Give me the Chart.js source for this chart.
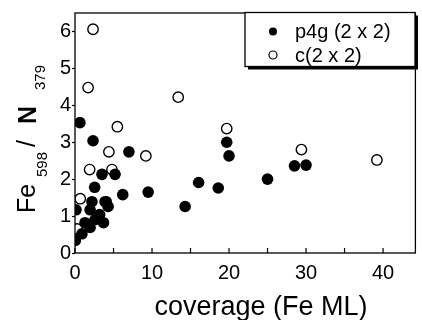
<!DOCTYPE html>
<html>
<head>
<meta charset="utf-8">
<script src="https://cdn.jsdelivr.net/npm/chart.js@4.4.1/dist/chart.umd.min.js"></script>
<style>
  html, body { margin: 0; padding: 0; background: #fff; }
  #wrap { width: 422px; height: 320px; }
</style>
</head>
<body>
<div id="wrap"><canvas id="chart" width="422" height="320"></canvas></div>
<script>
// p4g (2 x 2) - filled circles
const p4gX = [0.64, 2.34, 7.0, 3.5, 5.2, 2.55, 6.2, 9.5, 4.05, 14.3, 16.05, 18.6, 19.7, 20.0, 25.0, 28.5, 30.0,
              2.2, 3.9, 4.3, 1.96, 2.6, 3.7, 3.2, 0.13, 1.3, 1.96, 0.9, 0.04];
const p4gY = [3.53, 3.04, 2.74, 2.13, 2.13, 1.78, 1.58, 1.65, 1.39, 1.26, 1.91, 1.76, 3.0, 2.63, 2.0, 2.36, 2.38,
              1.39, 1.39, 1.26, 1.17, 0.9, 0.82, 1.04, 1.17, 0.82, 0.69, 0.52, 0.34];
// c(2 x 2) - open circles
const c2X = [2.34, 1.7, 13.4, 5.5, 19.7, 4.4, 29.4, 9.2, 39.2, 1.9, 4.8, 0.68, 0.26];
const c2Y = [6.06, 4.48, 4.22, 3.42, 3.37, 2.74, 2.8, 2.63, 2.52, 2.26, 2.26, 1.47, 0.65];

const legendLabels = ['p4g (2 x 2)', 'c(2 x 2)'];
const xTitle = 'coverage (Fe ML)';
const xTickValues = [0, 5, 10, 15, 20, 25, 30, 35, 40];
const xTickLabels = ['0', '', '10', '', '20', '', '30', '', '40'];
const yTickValues = [0, 1, 2, 3, 4, 5, 6];
const yTickLabels = ['0', '1', '2', '3', '4', '5', '6'];

const FONT = '"Liberation Sans", Arial, Helvetica, sans-serif';

function toPoints(xs, ys) {
    return xs.map((x, i) => ({ x: x, y: ys[i] }));
}

// frame, inward x ticks, titles and legend box
const decorations = {
    id: 'decorations',
    afterDraw(chart) {
        const ctx = chart.ctx;
        const a = chart.chartArea;
        const xs = chart.scales.x;
        ctx.save();
        ctx.strokeStyle = '#000';
        ctx.lineWidth = 1.3;
        ctx.strokeRect(a.left, a.top, a.right - a.left, a.bottom - a.top);

        // x ticks point into the plot
        ctx.lineWidth = 1.2;
        ctx.beginPath();
        xs.ticks.forEach(t => {
            const px = xs.getPixelForValue(t.value);
            ctx.moveTo(px, a.bottom);
            ctx.lineTo(px, a.bottom - 5);
        });
        ctx.stroke();

        // x title
        ctx.fillStyle = '#000';
        ctx.font = '27px ' + FONT;
        ctx.textAlign = 'center';
        ctx.textBaseline = 'alphabetic';
        ctx.fillText(xTitle, 261, 315);

        // y title with subscripts (start = lower end of each piece, base = baseline x)
        const parts = [
            { t: 'Fe', font: '25px ', start: 213, base: 35 },
            { t: '598', font: '15px ', start: 177, base: 47 },
            { t: '/', font: '25px ', start: 147, base: 35 },
            { t: 'N', font: 'bold 25px ', start: 124, base: 36 },
            { t: '379', font: '15px ', start: 90, base: 45 }
        ];
        ctx.textAlign = 'left';
        parts.forEach(p => {
            ctx.setTransform(1, 0, 0, 1, p.base, p.start);
            ctx.rotate(-Math.PI / 2);
            ctx.font = p.font + FONT;
            ctx.fillText(p.t, 0, 0);
        });
        ctx.setTransform(1, 0, 0, 1, 0, 0);

        // legend box with drop shadow
        const bx = 245, by = 12.5, bw = 170, bh = 54;
        ctx.fillStyle = '#000';
        ctx.fillRect(bx + 3, by + 3, bw, bh);
        ctx.fillStyle = '#fff';
        ctx.fillRect(bx, by, bw, bh);
        ctx.lineWidth = 1.3;
        ctx.strokeRect(bx, by, bw, bh);
        ctx.font = '20px ' + FONT;
        ctx.textBaseline = 'middle';
        ctx.textAlign = 'left';
        legendLabels.forEach((lab, i) => {
            const ly = by + 19 + i * 23.5;
            ctx.beginPath();
            ctx.arc(bx + 28, ly, 4, 0, Math.PI * 2);
            if (i === 0) {
                ctx.fillStyle = '#000';
                ctx.fill();
            } else {
                ctx.fillStyle = '#fff';
                ctx.fill();
                ctx.lineWidth = 1.2;
                ctx.stroke();
            }
            ctx.fillStyle = '#000';
            ctx.fillText(lab, bx + 50, ly + 1);
        });
        ctx.restore();
    }
};

new Chart(document.getElementById('chart'), {
    type: 'scatter',
    data: {
        datasets: [
            {
                label: legendLabels[0],
                data: toPoints(p4gX, p4gY),
                pointRadius: 5.8,
                pointBackgroundColor: '#000',
                pointBorderColor: '#000',
                pointBorderWidth: 0
            },
            {
                label: legendLabels[1],
                data: toPoints(c2X, c2Y),
                pointRadius: 5.2,
                pointBackgroundColor: '#fff',
                pointBorderColor: '#000',
                pointBorderWidth: 1.4
            }
        ]
    },
    options: {
        responsive: false,
        animation: false,
        layout: { padding: { top: 6.5, right: 1, left: 0, bottom: 0 } },
        plugins: {
            legend: { display: false },
            tooltip: { enabled: false }
        },
        scales: {
            x: {
                type: 'linear',
                min: 0,
                max: 44.2,
                afterBuildTicks: s => { s.ticks = xTickValues.map(v => ({ value: v })); },
                afterFit: s => { s.height = 67; },
                grid: { display: false },
                border: { display: false },
                ticks: {
                    autoSkip: false,
                    maxRotation: 0,
                    padding: 0,
                    color: '#000',
                    font: { family: FONT, size: 20 },
                    callback: (v, i) => xTickLabels[i]
                }
            },
            y: {
                type: 'linear',
                min: 0,
                max: 6.5,
                afterBuildTicks: s => { s.ticks = yTickValues.map(v => ({ value: v })); },
                afterFit: s => { s.width = 75; },
                grid: { display: true, drawOnChartArea: false, tickLength: 3, color: '#000', tickWidth: 1.2 },
                border: { display: false },
                ticks: {
                    autoSkip: false,
                    padding: 1,
                    color: '#000',
                    font: { family: FONT, size: 20 },
                    callback: (v, i) => yTickLabels[i]
                }
            }
        }
    },
    plugins: [decorations]
});
</script>
</body>
</html>
